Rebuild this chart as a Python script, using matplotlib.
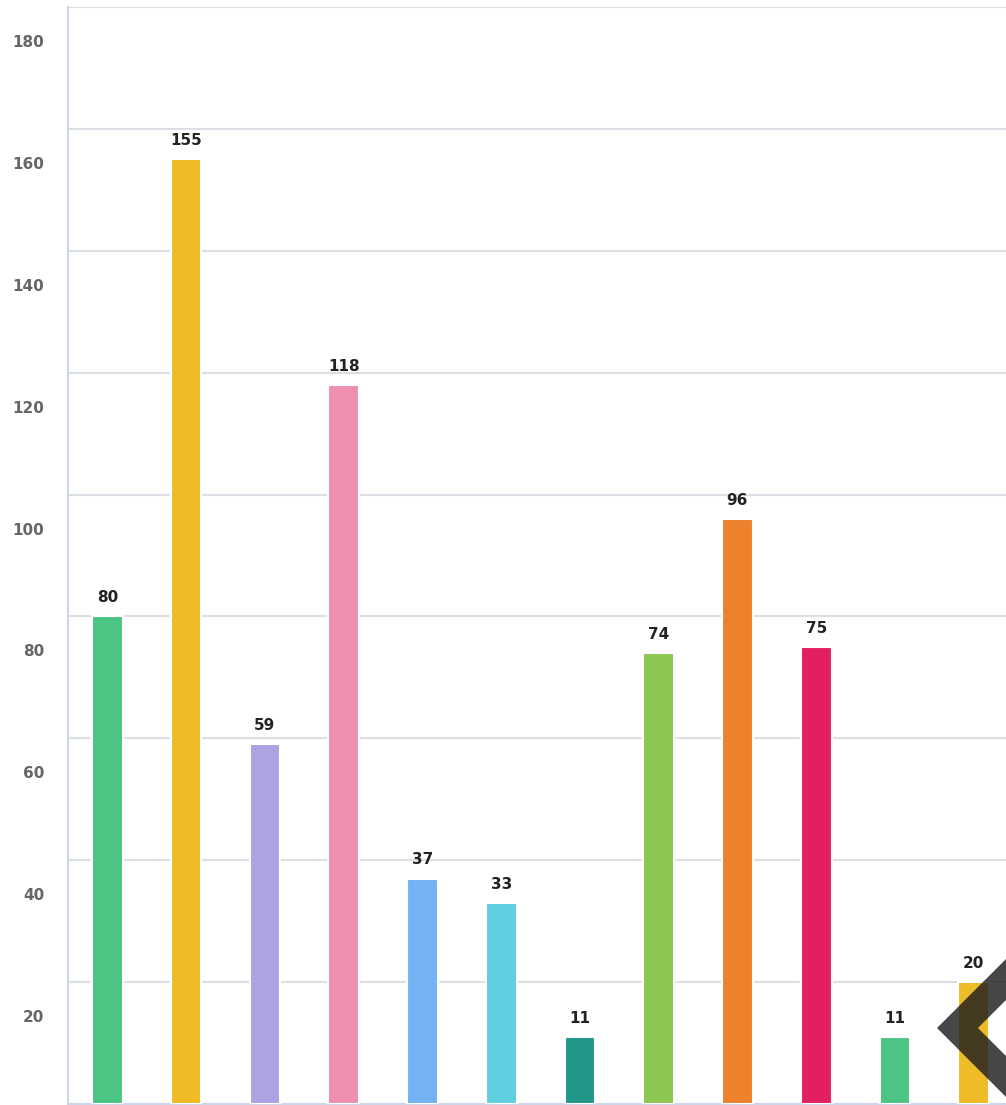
import matplotlib
matplotlib.use("Agg")
import matplotlib.pyplot as plt
import matplotlib.transforms as mtransforms
from matplotlib.patches import Polygon

values = [80, 155, 59, 118, 37, 33, 11, 74, 96, 75, 11, 20]
colors = ["#4CC584", "#EFBC27", "#AEA2E3", "#EF8FB0", "#74B3F3", "#5FCFDF",
          "#23968A", "#8CC653", "#EE822C", "#E31F64", "#4CC584", "#EFBC27"]
yticks = [20, 40, 60, 80, 100, 120, 140, 160, 180]

W, H = 1006, 1105
fig = plt.figure(figsize=(W / 100, H / 100), dpi=100)
ax = fig.add_axes([68 / W, 1 - 1104 / H, 1 - 68 / W, (1104 - 7) / H])

x = list(range(len(values)))
bars = ax.bar(x, values, width=0.39, color=colors, edgecolor="white",
              linewidth=1.5, zorder=3)
ax.bar_label(bars, labels=[str(v) for v in values], padding=8,
             fontsize=11, fontweight="bold", color="#222222")

ax.set_xlim(-0.5, 11.41)
ax.set_ylim(0, 180)
ax.set_yticks(yticks)
ax.set_yticklabels([str(t) for t in yticks])
ax.set_xticks([])
ax.grid(axis="y", color="#dcdfe6", linewidth=1.5, zorder=0)
ax.tick_params(axis="y", length=0, pad=17, labelsize=11, labelcolor="#666666")
for lab in ax.get_yticklabels():
    lab.set_fontweight("bold")
    lab.set_transform(lab.get_transform() +
                      mtransforms.ScaledTranslation(0, -0.34, fig.dpi_scale_trans))
for s in ["top", "right"]:
    ax.spines[s].set_visible(False)
ax.spines["left"].set_color("#cdd6e8")
ax.spines["bottom"].set_color("#cdd6e8")
ax.spines["left"].set_linewidth(1.5)
ax.spines["bottom"].set_linewidth(1.5)

# navigation chevron overlay
pts = [(937, 1028), (1015, 950), (1056, 950), (978, 1028), (1056, 1106), (1015, 1106)]
pts = [(px, H - py) for px, py in pts]
fig.patches.append(Polygon(pts, closed=True, transform=None,
                           facecolor="#1e1e1e", alpha=0.82, edgecolor="none", zorder=10))

fig.savefig("out.png", dpi=100)
